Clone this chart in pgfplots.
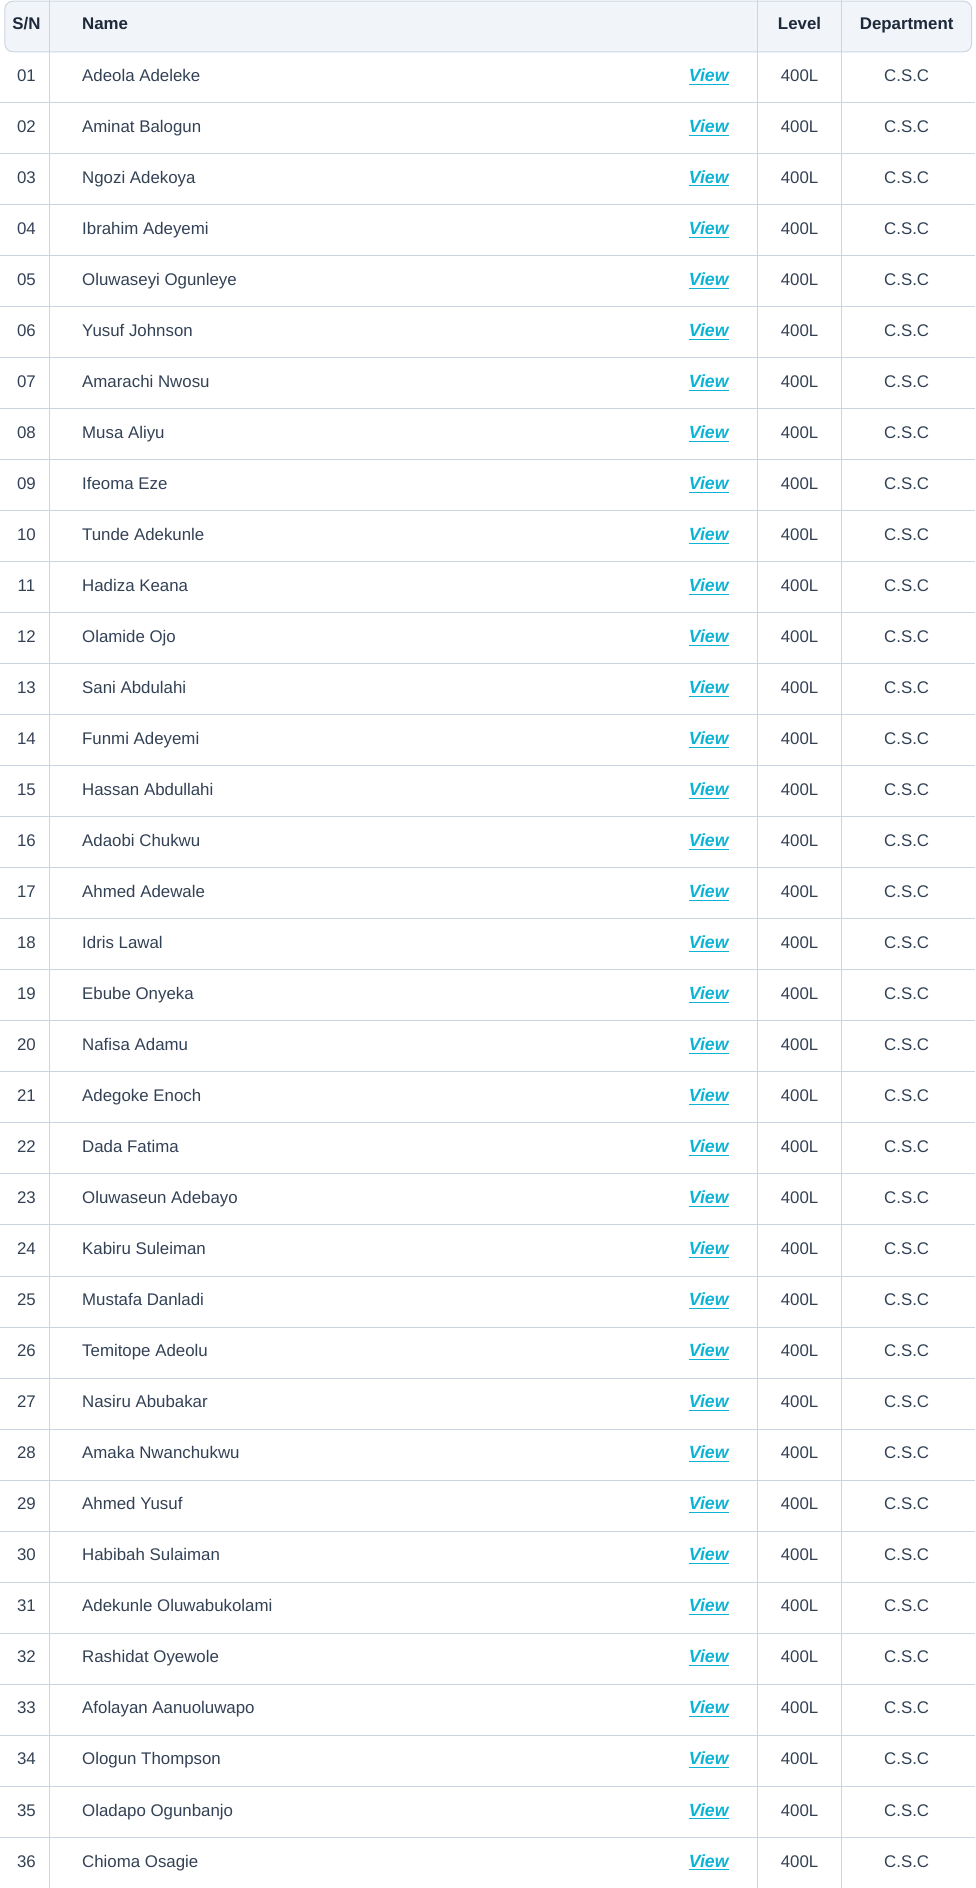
\documentclass[border=0pt]{standalone}
\usepackage{pgfplots}
\pgfplotsset{compat=1.18}
\usepackage{pgfplotstable}
\usepackage{fontspec}
\setmainfont{Liberation Sans}
\definecolor{txt}{HTML}{334155}
\definecolor{hdr}{HTML}{1E293B}
\definecolor{lin}{HTML}{CBD5E1}
\definecolor{hbg}{HTML}{F1F5F9}
\definecolor{cyn}{HTML}{0BB4D4}
\pgfplotstableread[col sep=comma]{
y,sn,name
64.0,01,Adeola Adeleke
106.4,02,Aminat Balogun
148.7,03,Ngozi Adekoya
191.1,04,Ibrahim Adeyemi
233.5,05,Oluwaseyi Ogunleye
275.9,06,Yusuf Johnson
318.2,07,Amarachi Nwosu
360.6,08,Musa Aliyu
403.0,09,Ifeoma Eze
445.3,10,Tunde Adekunle
487.7,11,Hadiza Keana
530.1,12,Olamide Ojo
572.4,13,Sani Abdulahi
614.8,14,Funmi Adeyemi
657.2,15,Hassan Abdullahi
699.6,16,Adaobi Chukwu
741.9,17,Ahmed Adewale
784.3,18,Idris Lawal
826.7,19,Ebube Onyeka
869.0,20,Nafisa Adamu
911.4,21,Adegoke Enoch
953.8,22,Dada Fatima
996.1,23,Oluwaseun Adebayo
1038.5,24,Kabiru Suleiman
1080.9,25,Mustafa Danladi
1123.3,26,Temitope Adeolu
1165.6,27,Nasiru Abubakar
1208.0,28,Amaka Nwanchukwu
1250.4,29,Ahmed Yusuf
1292.7,30,Habibah Sulaiman
1335.1,31,Adekunle Oluwabukolami
1377.5,32,Rashidat Oyewole
1419.8,33,Afolayan Aanuoluwapo
1462.2,34,Ologun Thompson
1504.6,35,Oladapo Ogunbanjo
1547.0,36,Chioma Osagie
}\rows
\begin{document}
\begin{tikzpicture}
\begin{axis}[
  width=607.5pt, height=1176pt, scale only axis,
  xmin=0, xmax=810, ymin=0, ymax=1568, y dir=reverse,
  axis line style={draw=none}, axis on top,
  xtick={41,629,699}, ytick={85.2,127.57,...,1530},
  xticklabels={}, yticklabels={},
  major tick length=0pt,
  grid=major, grid style={lin, line width=0.6pt},
  clip=false,
  every node near coord/.append style={font=\fontsize{10.5}{12}\selectfont, text=txt, anchor=center, text height=7.6pt, text depth=2.2pt, inner sep=0pt},
]
\fill[hbg, rounded corners=5pt] (axis cs:4,1) rectangle (axis cs:807,43);
\draw[lin, line width=0.6pt, rounded corners=5pt] (axis cs:4,1) rectangle (axis cs:807,43);
\addplot[draw=none, mark=none, nodes near coords, point meta=explicit symbolic]
  table[x expr=22, y=y, meta=sn] {\rows};
\addplot[draw=none, mark=none, nodes near coords, point meta=explicit symbolic,
  every node near coord/.append style={anchor=west}]
  table[x expr=68, y=y, meta=name] {\rows};
\addplot[draw=none, mark=none, nodes near coords={\underline{\textbf{\textit{View}}}},
  every node near coord/.append style={text=cyn, font=\fontsize{11}{12}\selectfont}]
  table[x expr=589, y=y] {\rows};
\addplot[draw=none, mark=none, nodes near coords={400L}]
  table[x expr=664, y=y] {\rows};
\addplot[draw=none, mark=none, nodes near coords={C.S.C}]
  table[x expr=753, y=y] {\rows};
\addplot[draw=none, mark=none, nodes near coords, point meta=explicit symbolic,
  every node near coord/.append style={text=hdr, font=\fontsize{10.5}{12}\selectfont\bfseries}]
  coordinates {(22,21)[S/N] (664,21)[Level] (753,21)[Department]};
\addplot[draw=none, mark=none, nodes near coords, point meta=explicit symbolic,
  every node near coord/.append style={anchor=west, text=hdr, font=\fontsize{10.5}{12}\selectfont\bfseries}]
  coordinates {(68,21)[Name]};
\end{axis}
\pgfresetboundingbox
\path (current axis.south west) rectangle (current axis.north east);
\end{tikzpicture}
\end{document}
